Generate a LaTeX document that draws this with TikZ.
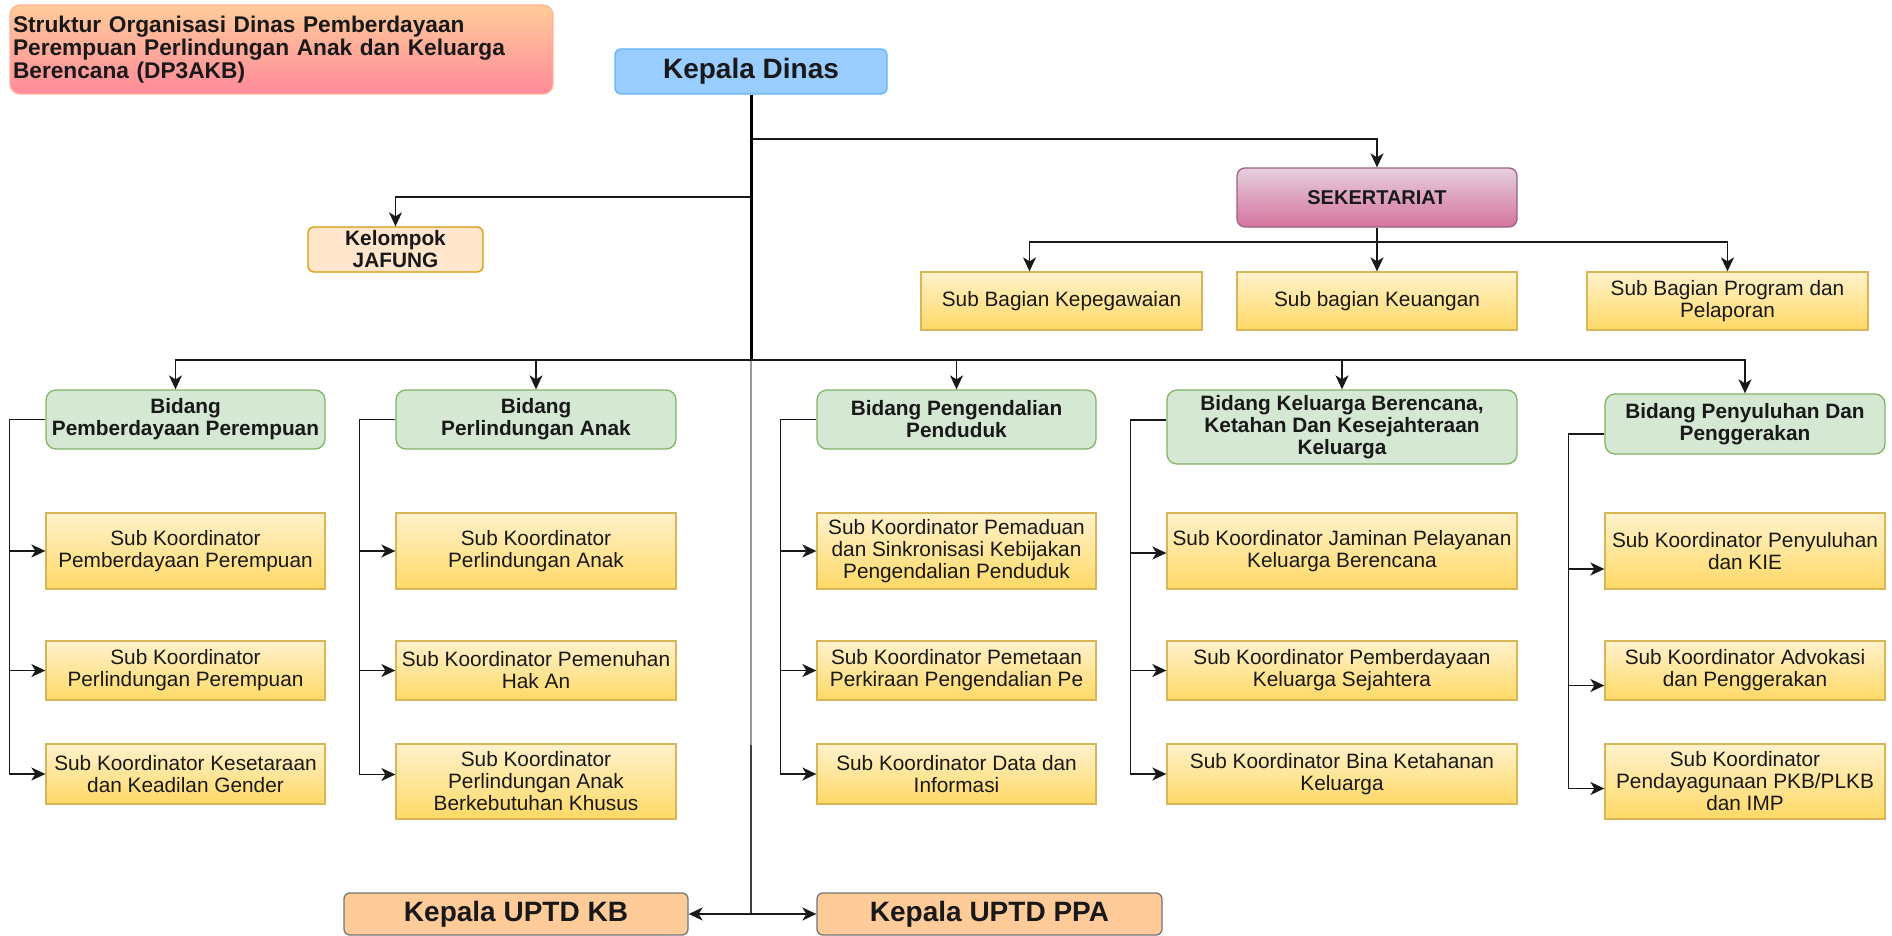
\documentclass[tikz,border=0pt]{standalone}
\usepackage{fontspec}
\setmainfont{Liberation Sans}
\usepackage{tikz}
\usetikzlibrary{arrows.meta,calc}
\definecolor{dpTitleTop}{RGB}{255,204,153}
\definecolor{dpTitleBot}{RGB}{255,138,155}
\definecolor{dpChiefFill}{RGB}{153,204,255}
\definecolor{dpChiefEdge}{RGB}{102,178,255}
\definecolor{dpSecrTop}{RGB}{230,208,222}
\definecolor{dpSecrBot}{RGB}{213,115,157}
\definecolor{dpSecrEdge}{RGB}{153,97,133}
\definecolor{dpGroupFill}{RGB}{255,230,204}
\definecolor{dpGroupEdge}{RGB}{215,155,0}
\definecolor{dpUnitTop}{RGB}{255,242,204}
\definecolor{dpUnitBot}{RGB}{255,217,102}
\definecolor{dpUnitEdge}{RGB}{214,182,86}
\definecolor{dpFieldFill}{RGB}{213,232,212}
\definecolor{dpFieldEdge}{RGB}{130,179,102}
\definecolor{dpUptdFill}{RGB}{255,204,153}
\definecolor{dpUptdEdge}{RGB}{54,57,61}

\begin{document}
\begin{tikzpicture}[x=1pt,y=-1pt,
  font=\fontsize{20.8}{22}\selectfont,
  card/.style={align=center,inner sep=2pt,line width=1.3pt,text=black!90},
  banner/.style={card,rounded corners=10pt,top color=dpTitleTop,bottom color=dpTitleBot,draw=dpTitleTop!60!dpTitleBot,align=left,inner sep=3pt,font=\fontsize{22.7}{23}\selectfont\bfseries},
  chief/.style={card,rounded corners=6pt,fill=dpChiefFill,draw=dpChiefEdge,font=\fontsize{28}{30}\selectfont\bfseries},
  secr/.style={card,rounded corners=8pt,top color=dpSecrTop,bottom color=dpSecrBot,draw=dpSecrEdge,font=\fontsize{20}{22}\selectfont\bfseries},
  group/.style={card,rounded corners=6pt,fill=dpGroupFill,draw=dpGroupEdge,font=\fontsize{20.8}{22}\selectfont\bfseries},
  unit/.style={card,top color=dpUnitTop,bottom color=dpUnitBot,draw=dpUnitEdge},
  field/.style={card,rounded corners=10pt,fill=dpFieldFill,draw=dpFieldEdge,font=\fontsize{20.8}{22}\selectfont\bfseries},
  uptd/.style={card,rounded corners=6pt,fill=dpUptdFill,draw=dpUptdEdge!70,font=\fontsize{28}{30}\selectfont\bfseries},
  wire/.style={draw=black!90,line width=1.6pt},
  flow/.style={wire,-{Stealth[length=14pt,width=13pt,inset=4pt]}},
  trunk/.style={draw=black,line width=3pt}]

\path[use as bounding box] (0,0) rectangle (1892,936);
\node[banner,text width=537pt,minimum height=89pt] (title) at (281.5,49.5)
  {Struktur Organisasi Dinas Pemberdayaan\\Perempuan Perlindungan Anak dan Keluarga\\Berencana (DP3AKB)};
\node[chief,minimum width=272pt,minimum height=45pt] (kadis) at (751,71.5) {Kepala Dinas};
\node[secr,minimum width=280pt,minimum height=59pt] (sek) at (1377,197.5) {SEKERTARIAT};
\node[group,minimum width=175pt,minimum height=45pt] (jaf) at (395.5,249.5) {Kelompok\\JAFUNG};
\foreach \nm/\xx/\ww/\txt in {sb1/1061.5/281/{Sub Bagian Kepegawaian},
    sb2/1377/280/{Sub bagian Keuangan},
    sb3/1727.5/281/{Sub Bagian Program dan\\Pelaporan}}
  \node[unit,minimum width=\ww pt,minimum height=58pt] (\nm) at (\xx,301) {\txt};
\foreach \nm/\xx/\yy/\ww/\hh/\txt in {bd1/185.5/419.5/279/59/{Bidang\\Pemberdayaan Perempuan},
    bd2/536/419.5/280/59/{Bidang\\Perlindungan Anak},
    bd3/956.5/419.5/279/59/{Bidang Pengendalian\\Penduduk},
    bd4/1342/427/350/74/{Bidang Keluarga Berencana,\\Ketahan Dan Kesejahteraan\\Keluarga},
    bd5/1745/424/280/60/{Bidang Penyuluhan Dan\\Penggerakan}}
  \node[field,minimum width=\ww pt,minimum height=\hh pt] (\nm) at (\xx,\yy) {\txt};
\foreach \nm/\xx/\yy/\ww/\hh/\txt in {
    s11/185.5/551/279/76/{Sub Koordinator\\Pemberdayaan Perempuan},
    s12/185.5/670.5/279/59/{Sub Koordinator\\Perlindungan Perempuan},
    s13/185.5/774/279/60/{Sub Koordinator Kesetaraan\\dan Keadilan Gender},
    s21/536/551/280/76/{Sub Koordinator\\Perlindungan Anak},
    s22/536/670.5/280/59/{Sub Koordinator Pemenuhan\\Hak An},
    s23/536/781.5/280/75/{Sub Koordinator\\Perlindungan Anak\\Berkebutuhan Khusus},
    s31/956.5/551/279/76/{Sub Koordinator Pemaduan\\dan Sinkronisasi Kebijakan\\Pengendalian Penduduk},
    s32/956.5/670.5/279/59/{Sub Koordinator Pemetaan\\Perkiraan Pengendalian Pe},
    s33/956.5/774/279/60/{Sub Koordinator Data dan\\Informasi},
    s41/1342/551/350/76/{Sub Koordinator Jaminan Pelayanan\\Keluarga Berencana},
    s42/1342/670.5/350/59/{Sub Koordinator Pemberdayaan\\Keluarga Sejahtera},
    s43/1342/774/350/60/{Sub Koordinator Bina Ketahanan\\Keluarga},
    s51/1745/551/280/76/{Sub Koordinator Penyuluhan\\dan KIE},
    s52/1745/670.5/280/59/{Sub Koordinator Advokasi\\dan Penggerakan},
    s53/1745/781.5/280/75/{Sub Koordinator\\Pendayagunaan PKB/PLKB\\dan IMP}}
  \node[unit,minimum width=\ww pt,minimum height=\hh pt] (\nm) at (\xx,\yy) {\txt};
\node[uptd,minimum width=344pt,minimum height=42pt] (kb) at (516,914) {Kepala UPTD KB};
\node[uptd,minimum width=345pt,minimum height=42pt] (ppa) at (989.5,914) {Kepala UPTD PPA};

\coordinate (tSek) at (751,139);
\coordinate (tJaf) at (751,197);
\coordinate (tBus) at (751,360);
\coordinate (tLow) at (751,745);
\coordinate (tUptd) at (751,914);
\draw[trunk] (kadis.south) -- (tBus);
\draw[wire,draw=black!40,line width=2.6pt] (tBus) -- (tUptd);
\draw[wire,draw=black!75] (tLow) -- (tUptd);
\draw[flow] (tSek) -| (sek.north);
\draw[flow] (tJaf) -| (jaf.north);
\draw[flow] (tUptd) -- (kb.east);
\draw[flow] (tUptd) -- (ppa.west);
\draw[flow] (sek.south) -- (sb2.north);
\draw[flow] (sek.south |- 0,242) -| ([xshift=-32pt]sb1.north);
\draw[flow] (sek.south |- 0,242) -| (sb3.north);
\draw[flow] (tBus) -| ([xshift=-10pt]bd1.north);
\foreach \bb in {2,3,4,5}
  \draw[flow] (tBus) -| (bd\bb.north);
\foreach \cc/\dy/\ea/\eb/\ec in {1/0/0/0/0,2/0/0/0/-7,3/0/0/0/0,4/-7/2/0/0,5/10/18/15/7}{
  \draw[flow] ($(bd\cc.west)+(0,\dy)$) -- ++(-36,0) |- ($(s\cc3.west)+(0,\ec)$);
  \draw[flow] ($(bd\cc.west)+(-36,\dy)$) |- ($(s\cc1.west)+(0,\ea)$);
  \draw[flow] ($(bd\cc.west)+(-36,\dy)$) |- ($(s\cc2.west)+(0,\eb)$);
}

\end{tikzpicture}
\end{document}
